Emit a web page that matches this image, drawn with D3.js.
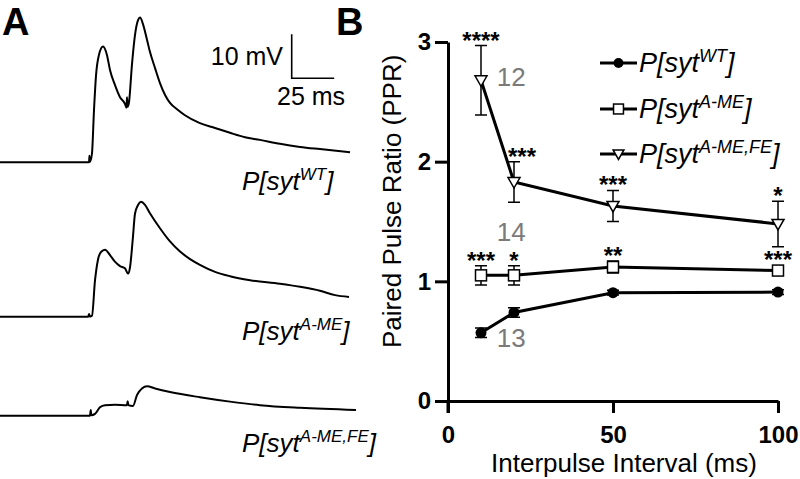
<!DOCTYPE html>
<html><head><meta charset="utf-8">
<script src="https://cdn.jsdelivr.net/npm/d3@7"></script>
<style>
body{margin:0;background:#fff}
svg{display:block}
text{font-family:"Liberation Sans",Arial,Helvetica,sans-serif}
</style>
</head><body>
<svg id="c" width="800" height="479"></svg>
<script>
// ---------- Panel A: EPSP traces, [time (ms), depolarisation (mV)] ----------
const traceWT = [[0,0],[52.4,0],[52.6,1.5],[52.9,0.1],[54.1,2.0],[55.3,11.9],[56.5,19.8],[58.2,24.4],[60.6,26.3],[62.9,24.4],[64.7,21.0],[67.6,17.6],[70.6,14.8],[73.5,13.3],[74.4,12.4],[74.7,14.8],[75.0,12.6],[75.9,13.7],[77.6,22.1],[79.4,28.9],[81.2,32.3],[82.4,32.9],[84.1,31.4],[86.5,27.8],[88.2,25.1],[91.2,21.4],[94.1,18.0],[97.1,15.3],[100,13.5],[104.7,11.9],[108.8,10.7],[117.6,8.9],[126.5,7.8],[135.3,6.7],[144.1,5.7],[152.9,5.1],[164.7,4.2],[176.5,3.5],[188.2,3.0],[205.9,2.3]];
const traceAME = [[0,0],[51.8,0],[52.4,0.6],[52.9,0],[54.1,0.2],[55.9,8.3],[57.6,12.9],[59.4,14.7],[61.8,15.2],[64.7,14.0],[67.6,12.5],[70.6,11.5],[73.5,11.0],[75.3,9.8],[76.5,11.3],[78.2,18.1],[79.4,23.4],[81.2,25.4],[82.9,26.1],[85.3,25.4],[88.2,23.5],[94.1,20.1],[100,17.1],[105.9,14.8],[111.8,13.1],[117.6,11.8],[126.5,10.2],[135.3,9.2],[147.1,8.3],[164.7,7.5],[176.5,6.8],[188.2,5.9],[197.1,4.9],[205.3,4.5]];
const traceFE = [[0,0],[52.9,0],[53.4,1.3],[53.7,0.1],[55.9,0.4],[58.8,1.9],[61.8,2.4],[67.6,2.5],[74.7,2.4],[75.1,3.3],[75.5,2.4],[78.2,2.2],[80.6,4.7],[83.5,6.2],[86.5,6.7],[91.2,6.2],[100,5.4],[117.6,4.2],[135.3,3.2],[152.9,2.4],[176.5,1.8],[209.4,1.3]];
const scaleBarMs = 25, scaleBarMV = 10;

// ---------- Panel B: paired pulse ratio ----------
const ipi = [10, 20, 50, 100];
const pprWT  = [0.57, 0.74, 0.905, 0.91];
const semWT  = [0.04, 0.04, 0.02, 0.02];
const pprAME = [1.05, 1.05, 1.12, 1.09];
const semAME = [0.08, 0.08, 0.05, 0.03];
const pprFE  = [2.68, 1.83, 1.63, 1.48];
const semFE  = [0.29, 0.17, 0.13, 0.19];
const sigAME = ["***", "*", "**", "***"];
const sigFE  = ["****", "***", "***", "*"];
const yTicks = [0, 1, 2, 3];
const xTicks = [0, 50, 100];
const genotypeSup = ["WT", "A-ME", "A-ME,FE"];
const nLabels = [{t:"12", x:14.8, y:2.63}, {t:"14", x:14.8, y:1.335}, {t:"13", x:14.8, y:0.45}];

const svg = d3.select("#c");

// ===== Panel A =====
const gA = svg.append("g");
gA.append("text").attr("x", 2).attr("y", 35).attr("font-size", 38).attr("font-weight", "bold").text("A");
const xT = d3.scaleLinear().domain([0, 1]).range([0, 1.7]);
const yT = d3.scaleLinear().domain([0, 1]).range([0, -4.4]);
const traces = [
  {pts: traceWT, base: 162.3, sup: genotypeSup[0], ly: 190},
  {pts: traceAME, base: 316.7, sup: genotypeSup[1], ly: 340},
  {pts: traceFE, base: 415.7, sup: genotypeSup[2], ly: 452}
];
const tline = d3.line().x(d => xT(d[0])).y(d => yT(d[1])).curve(d3.curveMonotoneX);
function geno(sel, x, y, sup, fs, sfs) {
  const t = sel.append("text").attr("x", x).attr("y", y).attr("font-style", "italic").attr("font-size", fs);
  t.append("tspan").text("P[syt");
  t.append("tspan").attr("font-size", sfs).attr("dy", -fs * 0.38).text(sup);
  t.append("tspan").attr("font-size", fs).attr("dy", fs * 0.38).text("]");
  return t;
}
traces.forEach(tr => {
  gA.append("path").attr("transform", `translate(0,${tr.base})`).attr("d", tline(tr.pts))
    .attr("fill", "none").attr("stroke", "#000").attr("stroke-width", 2).attr("stroke-linejoin", "round");
  geno(gA, 242, tr.ly, tr.sup, 26, 17);
});
// scale bar
const sbx = 291.7, sby = 78.3;
gA.append("path").attr("d", `M${sbx},${sby + yT(scaleBarMV)}V${sby}H${sbx + xT(scaleBarMs)}`)
  .attr("fill", "none").attr("stroke", "#000").attr("stroke-width", 1.6);
gA.append("text").attr("x", 283).attr("y", 65).attr("text-anchor", "end").attr("font-size", 25).text(scaleBarMV + " mV");
gA.append("text").attr("x", 277).attr("y", 105).attr("font-size", 25).text(scaleBarMs + " ms");

// ===== Panel B =====
svg.append("text").attr("x", 336).attr("y", 35).attr("font-size", 38).attr("font-weight", "bold").text("B");
const x = d3.scaleLinear().domain([0, 100]).range([448, 778]);
const y = d3.scaleLinear().domain([0, 3]).range([401, 42]);
const gB = svg.append("g");

const yAx = gB.append("g").attr("transform", `translate(${x(0)},0)`)
  .call(d3.axisLeft(y).tickValues(yTicks).tickFormat(d3.format("d")).tickSize(13).tickSizeOuter(0).tickPadding(4));
const xAx = gB.append("g").attr("transform", `translate(0,${y(0)})`)
  .call(d3.axisBottom(x).tickValues(xTicks).tickFormat(d3.format("d")).tickSize(12).tickSizeOuter(0).tickPadding(13));
[yAx, xAx].forEach(a => {
  a.select(".domain").attr("stroke-width", 3).attr("stroke", "#000");
  a.selectAll(".tick line").attr("stroke-width", 3).attr("stroke", "#000");
  a.selectAll(".tick text").attr("font-size", 24).attr("font-weight", "bold").attr("fill", "#000")
    .attr("font-family", '"Liberation Sans",Arial,sans-serif');
});
gB.append("line").attr("x1", x(0)).attr("x2", x(0)).attr("y1", y(0)).attr("y2", y(0) + 12).attr("stroke", "#000").attr("stroke-width", 3);

gB.append("text").attr("x", 624).attr("y", 472).attr("text-anchor", "middle").attr("font-size", 26).text("Interpulse Interval (ms)");
gB.append("text").attr("transform", "translate(401,348) rotate(-90)").attr("font-size", 26).text("Paired Pulse Ratio (PPR)");

const series = [
  {v: pprWT, e: semWT, m: "circle", sig: null, dx: [0,0,0,0]},
  {v: pprAME, e: semAME, m: "square", sig: sigAME, dx: [0,0,0,0]},
  {v: pprFE, e: semFE, m: "tri", sig: sigFE, dx: [0,8,0,0]}
];
const lineGen = d3.line().x(d => x(d.i)).y(d => y(d.v));
function marker(sel, type, cx, cy, s) {
  if (type === "circle") sel.append("circle").attr("cx", cx).attr("cy", cy).attr("r", 5.5 * s).attr("fill", "#000");
  else if (type === "square") sel.append("rect").attr("x", cx - 5.5 * s).attr("y", cy - 5.5 * s).attr("width", 11 * s).attr("height", 11 * s)
    .attr("fill", "#fff").attr("stroke", "#000").attr("stroke-width", 1.5);
  else sel.append("path").attr("d", `M${cx - 6 * s},${cy - 4.5 * s}L${cx + 6 * s},${cy - 4.5 * s}L${cx},${cy + 6 * s}Z`)
    .attr("fill", "#fff").attr("stroke", "#000").attr("stroke-width", 1.5);
}
series.forEach(s => {
  const pts = ipi.map((i, k) => ({i, v: s.v[k], e: s.e[k]}));
  const g = gB.append("g");
  pts.forEach(p => {
    const xx = x(p.i), t = y(p.v + p.e), b = y(p.v - p.e);
    g.append("path").attr("d", `M${xx},${t}V${b}M${xx - 6},${t}H${xx + 6}M${xx - 6},${b}H${xx + 6}`)
      .attr("stroke", "#000").attr("stroke-width", 1.5).attr("fill", "none");
  });
  g.append("path").attr("d", lineGen(pts)).attr("fill", "none").attr("stroke", "#000").attr("stroke-width", 3);
  pts.forEach(p => marker(g, s.m, x(p.i), y(p.v), 1));
  if (s.sig) pts.forEach((p, k) => {
    const top = Math.min(y(p.v + p.e), y(p.v) - 6);
    g.append("text").attr("x", x(p.i) + s.dx[k]).attr("y", top + 3).attr("text-anchor", "middle")
      .attr("font-size", 24).attr("font-weight", "bold").text(s.sig[k]);
  });
});
nLabels.forEach(n => gB.append("text").attr("x", x(n.x)).attr("y", y(n.y)).attr("font-size", 26).attr("fill", "#7a7a7a").text(n.t));

// legend
const legY = [63, 109, 154];
series.forEach((s, k) => {
  const g = gB.append("g");
  g.append("line").attr("x1", 600).attr("x2", 637).attr("y1", legY[k]).attr("y2", legY[k]).attr("stroke", "#000").attr("stroke-width", 3);
  marker(g, s.m, 618.5, legY[k], 0.9);
  geno(g, 639, legY[k] + 9, genotypeSup[k], 27, 18);
});
</script>
</body></html>
